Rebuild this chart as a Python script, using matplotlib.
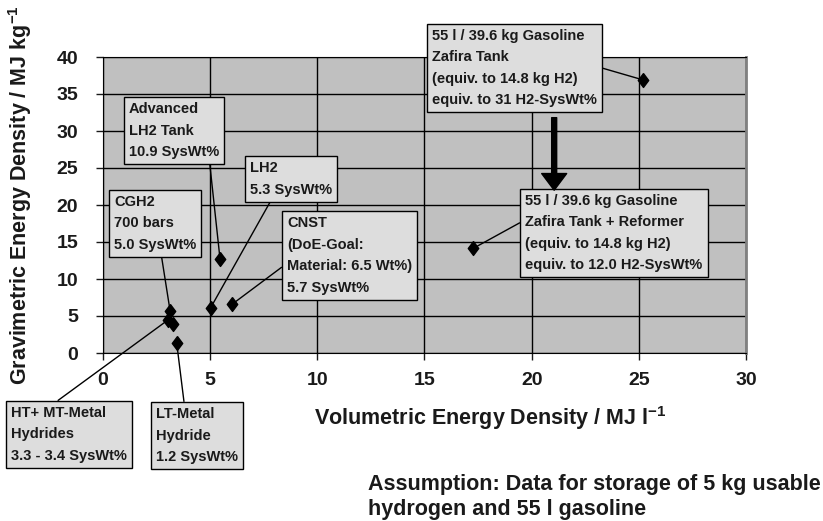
import matplotlib
matplotlib.use('Agg')
import matplotlib.pyplot as plt

plt.rcParams['font.family'] = ['Liberation Sans', 'DejaVu Sans']
plt.rcParams['font.weight'] = 'bold'
plt.rcParams['mathtext.fontset'] = 'custom'
plt.rcParams['mathtext.rm'] = 'Liberation Sans:bold'
plt.rcParams['mathtext.bf'] = 'Liberation Sans:bold'

# данные: объёмная и весовая плотность энергии
vol = [25.2, 17.28, 5.46, 5.02, 6.03, 3.13, 3.05, 3.25, 3.44]
grav = [36.9, 14.15, 12.7, 6.1, 6.6, 5.7, 4.5, 3.9, 1.3]

# подписи: текст, индекс точки, позиция текста (данные), точка выхода линии
labels = [
    ('55 l / 39.6 kg Gasoline\nZafira Tank\n(equiv. to 14.8 kg H2)\nequiv. to 31 H2-SysWt%', 0, (15.35, 43.8), (1, 0.52)),
    ('55 l / 39.6 kg Gasoline\nZafira Tank + Reformer\n(equiv. to 14.8 kg H2)\nequiv. to 12.0 H2-SysWt%', 1, (19.7, 21.5), (0, 0.67)),
    ('Advanced\nLH2 Tank\n10.9 SysWt%', 2, (1.21, 33.9), (0.89, 0)),
    ('LH2\n5.3 SysWt%', 3, (6.86, 25.9), (0.28, 0)),
    ('CNST\n(DoE-Goal:\nMaterial: 6.5 Wt%)\n5.7 SysWt%', 4, (8.59, 18.5), (0, 0.40)),
    ('CGH2\n700 bars\n5.0 SysWt%', 5, (0.51, 21.35), (0.57, 0)),
    ('HT+ MT-Metal\nHydrides\n3.3 - 3.4 SysWt%', 6, (-4.29, -7.16), (0.34, 1)),
    ('LT-Metal\nHydride\n1.2 SysWt%', 8, (2.47, -7.3), (0.35, 1)),
]

fig = plt.figure(figsize=(8.23, 5.21), dpi=100)
ax = fig.add_axes([103 / 823, 1 - 353 / 521, 643 / 823, 296 / 521])
ax.set_facecolor('#c0c0c0')

ax.set_xlim(0, 30)
ax.set_ylim(0, 40)
ax.set_xticks(range(0, 31, 5))
ax.set_yticks(range(0, 41, 5))
ax.grid(True, color='black', linewidth=1.0)
ax.set_axisbelow(True)
ax.tick_params(axis='both', labelsize=14, colors='#1a1a1a', length=5, width=1)
ax.tick_params(axis='y', pad=13)
ax.tick_params(axis='x', pad=9)
for lab in ax.get_xticklabels() + ax.get_yticklabels():
    lab.set_fontweight('bold')
for s in ['left', 'bottom', 'top']:
    ax.spines[s].set_color('black')
ax.spines['right'].set_color('#808080')
ax.spines['right'].set_linewidth(2)

diamond = [(0, 1), (0.75, 0), (0, -1), (-0.75, 0), (0, 1)]
ax.plot(vol, grav, linestyle='none', marker=diamond, markersize=10,
        color='black', zorder=5)

for text, i, pos, rel in labels:
    ax.annotate(text, xy=(vol[i], grav[i]), xytext=pos, textcoords='data',
                ha='left', va='top', fontsize=10.5, fontweight='bold',
                color='#1a1a1a', linespacing=1.68, annotation_clip=False,
                bbox=dict(boxstyle='square,pad=0.35', fc='#dddddd', ec='black', lw=1),
                arrowprops=dict(arrowstyle='-', color='black', lw=1,
                                relpos=rel, shrinkA=0, shrinkB=3),
                zorder=6)

# толстая стрелка от бензина к реформеру
ax.annotate('', xy=(21.05, 22.0), xytext=(21.05, 31.8),
            arrowprops=dict(arrowstyle='simple,head_length=1.2,head_width=1.8,tail_width=0.36',
                            mutation_scale=10, color='black', shrinkA=0, shrinkB=0),
            annotation_clip=False, zorder=7)

fig.text(20 / 823, 1 - 195 / 521, 'Gravimetric Energy Density / MJ kg$^{\\mathbf{-1}}$',
         rotation=90, ha='center', va='center', fontsize=15.5, fontweight='bold', color='#1a1a1a')
fig.text(490 / 823, 1 - 418 / 521, 'Volumetric Energy Density / MJ l$^{\\mathbf{-1}}$',
         ha='center', va='center', fontsize=15.5, fontweight='bold', color='#1a1a1a')
fig.text(368 / 823, 1 - 497 / 521, 'Assumption: Data for storage of 5 kg usable\nhydrogen and 55 l gasoline',
         ha='left', va='center', fontsize=15.5, fontweight='bold', color='#1a1a1a', linespacing=1.3)

fig.savefig('out.png', dpi=100)
